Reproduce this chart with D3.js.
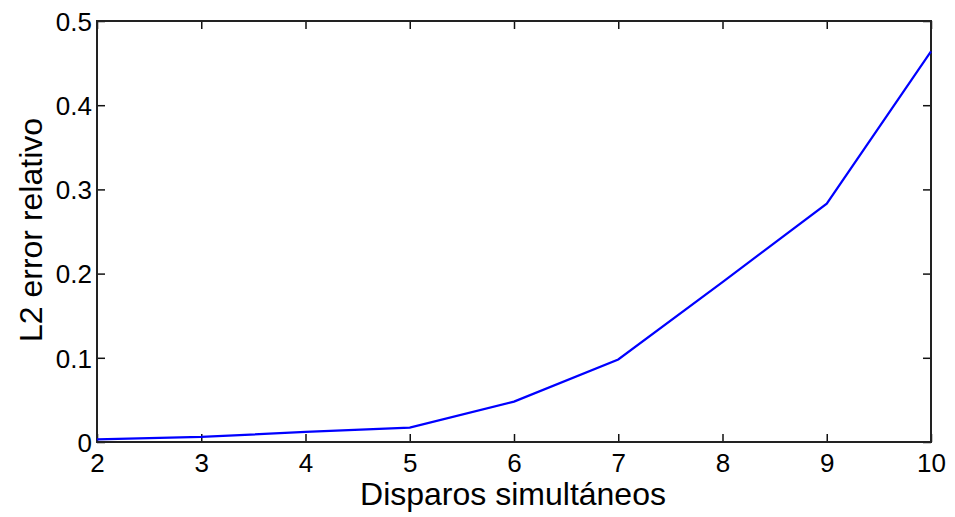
<!DOCTYPE html>
<html>
<head>
<meta charset="utf-8">
<script src="https://cdn.jsdelivr.net/npm/d3@7"></script>
<style>
  body { margin: 0; background: #fff; }
  text { font-family: "Liberation Sans", Arial, sans-serif; fill: #000; }
</style>
</head>
<body>
<script>
// data
var shots = [2, 3, 4, 5, 6, 7, 8, 9, 10];
var errors = [0.003, 0.006, 0.012, 0.017, 0.048, 0.098, 0.19, 0.283, 0.464];
var xTicks = [2, 3, 4, 5, 6, 7, 8, 9, 10];
var yTicks = [0, 0.1, 0.2, 0.3, 0.4, 0.5];

var width = 955,
    height = 517,
    margin = {top: 21, right: 24, bottom: 75, left: 97};

var svg = d3.select("body")
    .append("svg")
    .attr("width", width)
    .attr("height", height);

var x = d3.scaleLinear()
    .domain([2, 10])
    .range([margin.left, width - margin.right]);

var y = d3.scaleLinear()
    .domain([0, 0.5])
    .range([height - margin.bottom, margin.top]);

var tick = 8;

// inward ticks on all four sides
var axes = [
    {axis: d3.axisBottom(x).tickValues(xTicks).tickFormat(d3.format("d")), t: "translate(0," + y(0) + ")", labels: true},
    {axis: d3.axisTop(x).tickValues(xTicks), t: "translate(0," + y(0.5) + ")", labels: false},
    {axis: d3.axisLeft(y).tickValues(yTicks).tickFormat(function(d){ return d === 0 ? "0" : d3.format(".1f")(d); }), t: "translate(" + x(2) + ",0)", labels: true},
    {axis: d3.axisRight(y).tickValues(yTicks), t: "translate(" + x(10) + ",0)", labels: false}
];

axes.forEach(function(a, i){
    var g = svg.append("g")
        .attr("transform", a.t)
        .call(a.axis.tickSizeInner(-tick).tickSizeOuter(0).tickPadding(12));
    g.select(".domain").remove();
    g.selectAll("line").attr("stroke", "#111").attr("stroke-width", 1.5);
    g.selectAll("text")
        .style("font-size", "26px")
        .style("font-family", "'Liberation Sans', Arial, sans-serif");
    if (!a.labels) g.selectAll("text").remove();
    if (i === 0) g.selectAll("text").attr("dy", 0).attr("y", 30);
    if (i === 2) g.selectAll("text").attr("x", -5).attr("dy", "0.36em");
});

// frame
svg.append("rect")
    .attr("x", x(2))
    .attr("y", y(0.5))
    .attr("width", x(10) - x(2))
    .attr("height", y(0) - y(0.5))
    .attr("fill", "none")
    .attr("stroke", "#222")
    .attr("stroke-width", 2);

var line = d3.line()
    .x(function(d, i){ return x(shots[i]); })
    .y(function(d){ return y(d); });

svg.append("path")
    .datum(errors)
    .attr("d", line)
    .attr("fill", "none")
    .attr("stroke", "#0000ff")
    .attr("stroke-width", 2.2);

// axis titles
svg.append("text")
    .attr("x", 513)
    .attr("y", 505)
    .attr("text-anchor", "middle")
    .style("font-size", "32px")
    .text("Disparos simultáneos");

svg.append("text")
    .attr("transform", "translate(42,230) rotate(-90)")
    .attr("text-anchor", "middle")
    .style("font-size", "32px")
    .text("L2 error relativo");
</script>
</body>
</html>
